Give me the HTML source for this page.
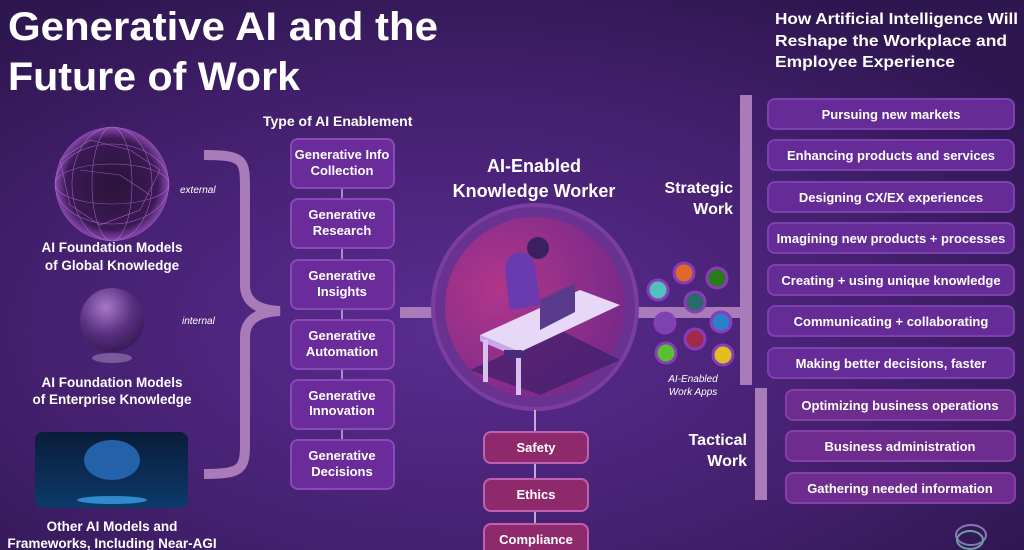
<!DOCTYPE html>
<html><head><meta charset="utf-8"><style>
html,body{margin:0;padding:0;background:#35185a;}
svg{display:block;font-family:"Liberation Sans",sans-serif;}
</style></head><body>
<svg width="1024" height="550" viewBox="0 0 1024 550" xmlns="http://www.w3.org/2000/svg">
<defs>
<radialGradient id="bg" cx="0.45" cy="0.6" r="0.7">
<stop offset="0" stop-color="#5a2c92"/><stop offset="0.6" stop-color="#44206e"/><stop offset="1" stop-color="#2e1650"/></radialGradient>
<radialGradient id="sph" cx="0.5" cy="0.5" r="0.5">
<stop offset="0" stop-color="#2a1238"/><stop offset="0.8" stop-color="#3c1a55"/><stop offset="1" stop-color="#8a4ab0"/></radialGradient>
<radialGradient id="sph2" cx="0.4" cy="0.3" r="0.7">
<stop offset="0" stop-color="#a878c8"/><stop offset="0.6" stop-color="#5a3080"/><stop offset="1" stop-color="#3a1c58"/></radialGradient>
<radialGradient id="desk" cx="0.3" cy="0.4" r="0.7">
<stop offset="0" stop-color="#b0368a"/><stop offset="1" stop-color="#7a2a8a"/></radialGradient>
<linearGradient id="brain" x1="0" y1="0" x2="0" y2="1">
<stop offset="0" stop-color="#0a1c3a"/><stop offset="1" stop-color="#0d3a6a"/></linearGradient>
</defs>
<rect width="1024" height="550" fill="url(#bg)"/>

<!-- titles -->
<g fill="#fff" font-weight="bold">
<text x="8" y="40" font-size="40" textLength="430" lengthAdjust="spacingAndGlyphs">Generative AI and the</text>
<text x="8" y="90" font-size="40" textLength="292" lengthAdjust="spacingAndGlyphs">Future of Work</text>
<text x="775" y="24" font-size="16" textLength="243" lengthAdjust="spacingAndGlyphs">How Artificial Intelligence Will</text>
<text x="775" y="46" font-size="16" textLength="232" lengthAdjust="spacingAndGlyphs">Reshape the Workplace and</text>
<text x="775" y="67" font-size="16" textLength="180" lengthAdjust="spacingAndGlyphs">Employee Experience</text>
</g>

<!-- left images -->
<circle cx="112" cy="184" r="57" fill="url(#sph)"/>
<g stroke="#c07ae0" stroke-width="0.6" fill="none" opacity="0.7">
<ellipse cx="112" cy="184" rx="57" ry="20"/><ellipse cx="112" cy="184" rx="20" ry="57"/>
<ellipse cx="112" cy="184" rx="40" ry="57"/><ellipse cx="112" cy="184" rx="57" ry="40"/>
<path d="M60 160 L90 140 L130 150 L160 170 L140 210 L100 225 L70 205 Z M80 170 L120 175 L150 195"/>
</g>
<circle cx="112" cy="320" r="32" fill="url(#sph2)"/>
<ellipse cx="112" cy="358" rx="20" ry="5" fill="#7a5a98"/>
<rect x="35" y="432" width="153" height="76" rx="8" fill="url(#brain)"/>
<ellipse cx="112" cy="460" rx="28" ry="20" fill="#2a70c0" opacity="0.8"/>
<ellipse cx="112" cy="500" rx="35" ry="4" fill="#3aa0e8" opacity="0.8"/>
<g fill="#fff" font-weight="bold" font-size="13.5" text-anchor="middle">
<text x="112" y="252">AI Foundation Models</text><text x="112" y="270">of Global Knowledge</text>
<text x="112" y="387">AI Foundation Models</text><text x="112" y="404">of Enterprise Knowledge</text>
<text x="112" y="531">Other AI Models and</text><text x="112" y="548">Frameworks, Including Near-AGI</text>
</g>
<g fill="#fff" font-style="italic" font-size="10">
<text x="180" y="193">external</text><text x="182" y="324">internal</text>
</g>

<!-- brace -->
<path d="M204 155 C245 155 245 160 245 190 L245 285 C245 300 255 310 280 311 C255 312 245 322 245 337 L245 445 C245 470 240 474 204 474" fill="none" stroke="#a97bb8" stroke-width="10"/>

<!-- enablement -->
<text x="263" y="126" fill="#fff" font-weight="bold" font-size="14">Type of AI Enablement</text>
<line x1="342" y1="188" x2="342" y2="440" stroke="#c8b0d8" stroke-width="1.5"/>
<g fill="#6a2c9a" stroke="#8a48b8" stroke-width="2">
<rect x="291" y="139" width="103" height="49" rx="7"/><rect x="291" y="199" width="103" height="49" rx="7"/>
<rect x="291" y="260" width="103" height="49" rx="7"/><rect x="291" y="320" width="103" height="49" rx="7"/>
<rect x="291" y="380" width="103" height="49" rx="7"/><rect x="291" y="440" width="103" height="49" rx="7"/>
</g>
<g fill="#fff" font-weight="bold" font-size="13" text-anchor="middle">
<text x="342" y="159">Generative Info</text><text x="342" y="175">Collection</text>
<text x="342" y="219">Generative</text><text x="342" y="235">Research</text>
<text x="342" y="280">Generative</text><text x="342" y="296">Insights</text>
<text x="342" y="340">Generative</text><text x="342" y="356">Automation</text>
<text x="342" y="400">Generative</text><text x="342" y="415">Innovation</text>
<text x="342" y="460">Generative</text><text x="342" y="476">Decisions</text>
</g>

<!-- center -->
<rect x="400" y="307" width="40" height="11" fill="#a97bb8"/>
<rect x="634" y="307" width="110" height="11" fill="#a97bb8"/>
<rect x="740" y="95" width="12" height="290" fill="#a97bb8"/>
<rect x="755" y="388" width="12" height="112" fill="#a97bb8"/>
<g fill="#fff" font-weight="bold" font-size="18" text-anchor="middle">
<text x="534" y="172">AI-Enabled</text><text x="534" y="197">Knowledge Worker</text>
</g>
<g fill="#fff" font-weight="bold" font-size="16" text-anchor="end">
<text x="733" y="193">Strategic</text><text x="733" y="214">Work</text>
<text x="747" y="445">Tactical</text><text x="747" y="466">Work</text>
</g>
<circle cx="535" cy="307" r="102" fill="#6a3290" stroke="#7a3ea0" stroke-width="4"/>
<circle cx="535" cy="307" r="90" fill="url(#desk)"/>
<path d="M470 370 L560 330 L620 360 L540 395 Z" fill="#3a1e6a" opacity="0.7"/>
<path d="M480 335 L580 290 L620 305 L520 352 Z" fill="#e8d8f8"/>
<path d="M480 335 L520 352 L520 358 L480 341 Z" fill="#c8a8e8"/>
<rect x="483" y="340" width="5" height="42" fill="#d8c0f0"/><rect x="516" y="355" width="5" height="40" fill="#d8c0f0"/>
<path d="M540 300 L575 283 L575 312 L540 330 Z" fill="#5a3a8a"/>
<path d="M505 270 C505 250 530 245 535 265 L540 305 L510 310 Z" fill="#6a3ab0"/>
<circle cx="538" cy="248" r="11" fill="#3a2060"/>
<rect x="504" y="350" width="18" height="8" fill="#4a2a7a"/>
<!-- dots -->
<g stroke="#8a3cb8" stroke-width="3">
<circle cx="658" cy="290" r="10" fill="#50c0c0"/><circle cx="684" cy="273" r="10" fill="#e06a2a"/>
<circle cx="717" cy="278" r="10" fill="#2a7a1a"/><circle cx="695" cy="302" r="10" fill="#2a6a6a"/>
<circle cx="665" cy="323" r="10" fill="#7a44b0"/><circle cx="721" cy="322" r="10" fill="#2a80c8"/>
<circle cx="695" cy="339" r="10" fill="#a02a4a"/><circle cx="666" cy="353" r="10" fill="#5ac030"/>
<circle cx="723" cy="355" r="10" fill="#e0c020"/>
</g>
<g fill="#fff" font-style="italic" font-size="10" text-anchor="middle">
<text x="693" y="382">AI-Enabled</text><text x="693" y="395">Work Apps</text>
</g>

<!-- safety -->
<line x1="535" y1="410" x2="535" y2="526" stroke="#e8d8f0" stroke-width="1.5"/>
<g fill="#8e2a6c" stroke="#c060b0" stroke-width="2">
<rect x="484" y="432" width="104" height="31" rx="7"/><rect x="484" y="479" width="104" height="32" rx="7"/><rect x="484" y="524" width="104" height="32" rx="7"/>
</g>
<g fill="#fff" font-weight="bold" font-size="13" text-anchor="middle">
<text x="536" y="452">Safety</text><text x="536" y="499">Ethics</text><text x="536" y="544">Compliance</text>
</g>

<!-- right list -->
<g fill="#652c98" stroke="#7c40b0" stroke-width="2">
<rect x="768" y="99" width="246" height="30" rx="7"/><rect x="768" y="140" width="246" height="30" rx="7"/>
<rect x="768" y="182" width="246" height="30" rx="7"/><rect x="768" y="223" width="246" height="30" rx="7"/>
<rect x="768" y="265" width="246" height="30" rx="7"/><rect x="768" y="306" width="246" height="30" rx="7"/>
<rect x="768" y="348" width="246" height="30" rx="7"/>
</g>
<g fill="#6e2c8e" stroke="#8440a8" stroke-width="2">
<rect x="786" y="390" width="229" height="30" rx="7"/><rect x="786" y="431" width="229" height="30" rx="7"/><rect x="786" y="473" width="229" height="30" rx="7"/>
</g>
<g fill="#fff" font-weight="bold" font-size="13" text-anchor="middle">
<text x="891" y="119">Pursuing new markets</text>
<text x="891" y="160">Enhancing products and services</text>
<text x="891" y="202">Designing CX/EX experiences</text>
<text x="891" y="243">Imagining new products + processes</text>
<text x="891" y="285">Creating + using unique knowledge</text>
<text x="891" y="326">Communicating + collaborating</text>
<text x="891" y="368">Making better decisions, faster</text>
<text x="900" y="410">Optimizing business operations</text>
<text x="900" y="451">Business administration</text>
<text x="900" y="493">Gathering needed information</text>
</g>
<g fill="none" stroke="#8a78b0" stroke-width="2">
<ellipse cx="971" cy="535" rx="15" ry="10"/><ellipse cx="970" cy="540" rx="13" ry="9" stroke="#6aa0a0"/>
</g>
</svg>
</body></html>
